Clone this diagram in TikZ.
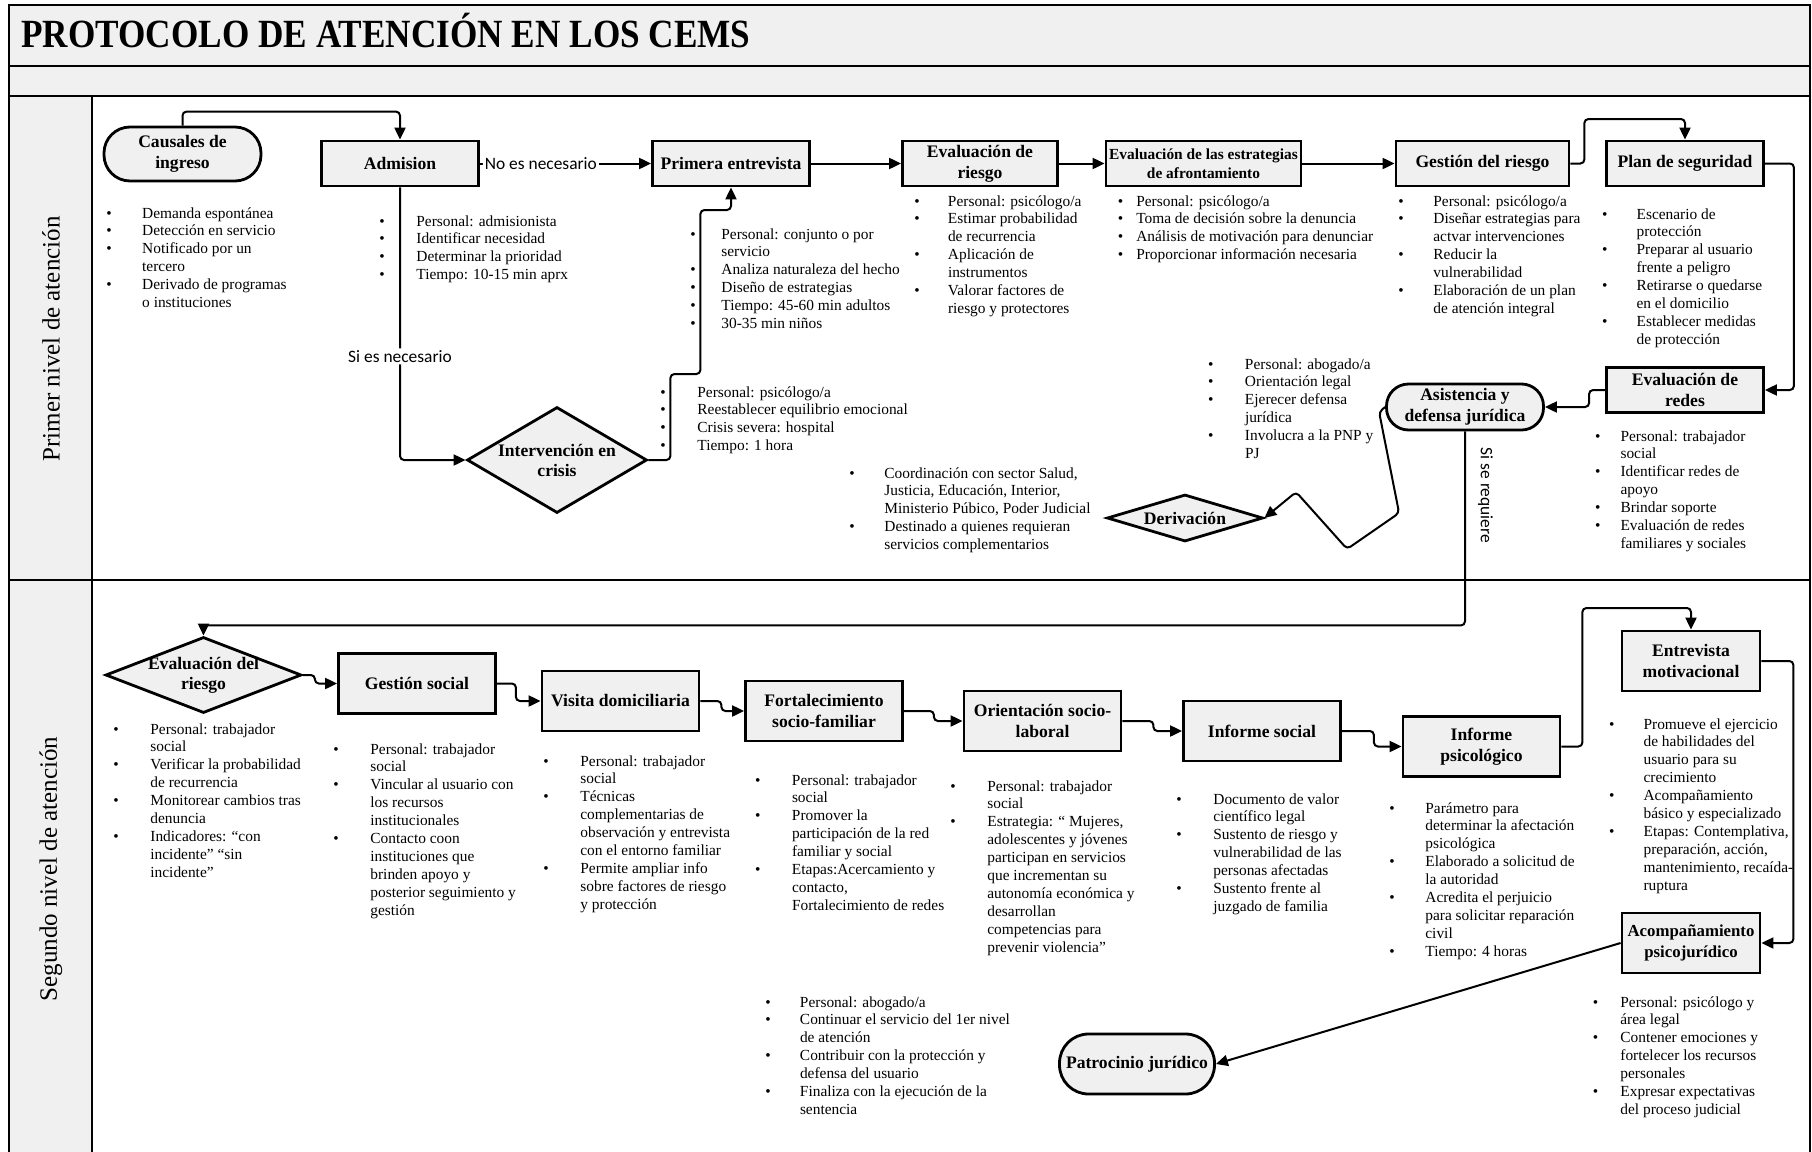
\documentclass[tikz,border=0pt]{standalone}
\usepackage{fontspec}
\setmainfont{Liberation Serif}
\newfontfamily\titulofont[FakeStretch=0.88]{Liberation Serif}
\newfontfamily\sansfont{Carlito}
\usepackage{tikz}
\usetikzlibrary{arrows,arrows.meta,shapes.geometric}
\usetikzlibrary{positioning,calc}
\definecolor{gris}{HTML}{F0F0F0}
\newcommand{\lista}[2]{\begin{tabular}[t]{@{}p{#1}@{}l@{}}#2\end{tabular}}
\newcommand{\bl}{\textbullet}

\begin{document}
\begin{tikzpicture}[x=0.5pt, y=-0.5pt,
        caja/.style={rectangle, draw, fill=gris, line width=1.4pt, align=center, inner sep=1pt, minimum width=78.5pt, minimum height=22.5pt, font=\fontsize{8.8}{10.4}\selectfont\bfseries},
        capsula/.style={caja, rounded corners=#1},
        rombo/.style={diamond, draw, fill=gris, line width=1.4pt, align=center, inner sep=0pt, font=\fontsize{8.8}{10}\selectfont\bfseries},
        lista/.style={anchor=base west, inner sep=0pt, font=\fontsize{7.7}{8.95}\selectfont},
        flecha/.style={-{Triangle[length=6pt,width=5.5pt]}, line width=1pt, rounded corners=2pt},
        marco/.style={line width=1.2pt},
        etiq/.style={font=\sansfont\fontsize{8.7}{10}\selectfont, inner sep=1pt},
        carril/.style={rotate=90, font=\fontsize{12.5}{14}\selectfont}]
        \useasboundingbox (0,0) rectangle (1812,1152);
        \draw[marco, fill=gris] (9,5) rectangle (1810,66);
        \draw[marco, fill=gris] (9,66) rectangle (1810,96);
        \draw[marco] (9,96) rectangle (1810,580);
        \draw[marco, fill=gris] (9,96) rectangle (92,580);
        \draw[marco] (9,580) rectangle (1810,1170);
        \draw[marco, fill=gris] (9,580) rectangle (92,1170);
        \node[anchor=base west, inner sep=0pt, font=\titulofont\fontsize{20}{24}\selectfont\bfseries] (titulo) at (21,47) {PROTOCOLO DE ATENCIÓN EN LOS CEMS};
        \node[carril] (nivel1) at (51,339) {Primer nivel de atención};
        \node[carril] (nivel2) at (51,869) {Segundo nivel de atención};

        \node[capsula=13pt, minimum height=27pt] (caus) at (182.5,154) {Causales de\\ingreso};
        \node[caja] (adm) at (400,163.5) {Admision};
        \node[caja] (pe) at (731,163.5) {Primera entrevista};
        \node[caja, minimum width=77.5pt] (er) at (980,163.5) {Evaluación de\\riesgo};
        \node[caja, minimum width=97.5pt, font=\fontsize{7.7}{9.6}\selectfont\bfseries] (ee) at (1203.5,163.5) {Evaluación de las estrategias\\de afrontamiento};
        \node[caja, minimum width=86.5pt] (gr) at (1482.5,163.5) {Gestión del riesgo};
        \node[caja] (plan) at (1685,163.5) {Plan de seguridad};
        \node[caja] (redes) at (1685,390) {Evaluación de\\redes};
        \node[capsula=11pt, minimum height=23pt] (asis) at (1465,407) {Asistencia y\\defensa jurídica};
        \node[rombo, aspect=3.3, minimum width=78pt, minimum height=23.5pt] (der) at (1185,518) {Derivación};
        \node[rombo, aspect=1.7, minimum width=90pt, minimum height=53pt] (int) at (557,460) {Intervención en\\crisis};

        \node[rombo, aspect=2.58, inner sep=-2pt, minimum width=98pt, minimum height=38pt] (evr) at (203.5,675) {Evaluación del\\riesgo};
        \node[caja, minimum height=30pt] (gs) at (417,683.5) {Gestión social};
        \node[caja, minimum height=30pt] (vd) at (620.5,701) {Visita domiciliaria};
        \node[caja, minimum height=30pt] (fs) at (824,711) {Fortalecimiento\\socio-familiar};
        \node[caja, minimum height=30pt] (ol) at (1042.5,721) {Orientación socio-\\laboral};
        \node[caja, minimum height=30pt] (is) at (1262,731) {Informe social};
        \node[caja, minimum height=30pt] (ip) at (1481.5,746.5) {Informe\\psicológico};
        \node[caja, minimum width=69pt, minimum height=30pt] (em) at (1691,661) {Entrevista\\motivacional};
        \node[caja, minimum width=69pt, minimum height=30pt, font=\fontsize{8.4}{10.4}\selectfont\bfseries] (ac) at (1691,943) {Acompañamiento\\psicojurídico};
        \node[capsula=14.5pt, minimum width=77.5pt, minimum height=30pt] (pat) at (1137,1064) {Patrocinio jurídico};

        \node[lista] (lcaus) at (106,218) {\lista{17.9pt}{\bl & Demanda espontánea\\ \bl & Detección en servicio\\ \bl & Notificado por un\\ & tercero\\ \bl & Derivado de programas\\ & o instituciones}};
        \node[lista] (ladm) at (379,226) {\lista{18.5pt}{\bl & Personal: admisionista\\ \bl & Identificar necesidad\\ \bl & Determinar la prioridad\\ \bl & Tiempo: 10-15 min aprx}};
        \node[lista] (lpe) at (690,239) {\lista{15.5pt}{\bl & Personal: conjunto o por\\ & servicio\\ \bl & Analiza naturaleza del hecho\\ \bl & Diseño de estrategias\\ \bl & Tiempo: 45-60 min adultos\\ \bl & 30-35 min niños}};
        \node[lista] (ler) at (914,206) {\lista{16.8pt}{\bl & Personal: psicólogo/a\\ \bl & Estimar probabilidad\\ & de recurrencia\\ \bl & Aplicación de\\ & instrumentos\\ \bl & Valorar factores de\\ & riesgo y protectores}};
        \node[lista] (lee) at (1117.5,206) {\lista{9.2pt}{\bl & Personal: psicólogo/a\\ \bl & Toma de decisión sobre la denuncia\\ \bl & Análisis de motivación para denunciar\\ \bl & Proporcionar información necesaria}};
        \node[lista] (lgr) at (1398,206) {\lista{17.5pt}{\bl & Personal: psicólogo/a\\ \bl & Diseñar estrategias para\\ & actvar intervenciones\\ \bl & Reducir la\\ & vulnerabilidad\\ \bl & Elaboración de un plan\\ & de atención integral}};
        \node[lista] (lplan) at (1601.6,219) {\lista{17.3pt}{\bl & Escenario de\\ & protección\\ \bl & Preparar al usuario\\ & frente a peligro\\ \bl & Retirarse o quedarse\\ & en el domicilio\\ \bl & Establecer medidas\\ & de protección}};
        \node[lista] (lint) at (660,397) {\lista{18.5pt}{\bl & Personal: psicólogo/a\\ \bl & Reestablecer equilibrio emocional\\ \bl & Crisis severa: hospital\\ \bl & Tiempo: 1 hora}};
        \node[lista] (lasis) at (1207.6,369) {\lista{18.5pt}{\bl & Personal: abogado/a\\ \bl & Orientación legal\\ \bl & Ejerecer defensa\\ & jurídica\\ \bl & Involucra a la PNP y\\ & PJ}};
        \node[lista] (lder) at (849,478) {\lista{17.5pt}{\bl & Coordinación con sector Salud,\\ & Justicia, Educación, Interior,\\ & Ministerio Púbico, Poder Judicial\\ \bl & Destinado a quienes requieran\\ & servicios complementarios}};
        \node[lista] (lredes) at (1594.7,441) {\lista{12.7pt}{\bl & Personal: trabajador\\ & social\\ \bl & Identificar redes de\\ & apoyo\\ \bl & Brindar soporte\\ \bl & Evaluación de redes\\ & familiares y sociales}};

        \node[lista] (levr) at (113,734) {\lista{18.5pt}{\bl & Personal: trabajador\\ & social\\ \bl & Verificar la probabilidad\\ & de recurrencia\\ \bl & Monitorear cambios tras\\ & denuncia\\ \bl & Indicadores: “con\\ & incidente” “sin\\ & incidente”}};
        \node[lista] (lgs) at (333,754) {\lista{18.5pt}{\bl & Personal: trabajador\\ & social\\ \bl & Vincular al usuario con\\ & los recursos\\ & institucionales\\ \bl & Contacto coon\\ & instituciones que\\ & brinden apoyo y\\ & posterior seguimiento y\\ & gestión}};
        \node[lista] (lvd) at (543,766) {\lista{18.5pt}{\bl & Personal: trabajador\\ & social\\ \bl & Técnicas\\ & complementarias de\\ & observación y entrevista\\ & con el entorno familiar\\ \bl & Permite ampliar info\\ & sobre factores de riesgo\\ & y protección}};
        \node[lista] (lfs) at (754.6,785) {\lista{18.5pt}{\bl & Personal: trabajador\\ & social\\ \bl & Promover la\\ & participación de la red\\ & familiar y social\\ \bl & Etapas:Acercamiento y\\ & contacto,\\ & Fortalecimiento de redes}};
        \node[lista] (lol) at (950,791) {\lista{18.5pt}{\bl & Personal: trabajador\\ & social\\ \bl & Estrategia: “ Mujeres,\\ & adolescentes y jóvenes\\ & participan en servicios\\ & que incrementan su\\ & autonomía económica y\\ & desarrollan\\ & competencias para\\ & prevenir violencia”}};
        \node[lista] (lis) at (1176,804) {\lista{18.5pt}{\bl & Documento de valor\\ & científico legal\\ \bl & Sustento de riesgo y\\ & vulnerabilidad de las\\ & personas afectadas\\ \bl & Sustento frente al\\ & juzgado de familia}};
        \node[lista] (lip) at (1389,813) {\lista{18pt}{\bl & Parámetro para\\ & determinar la afectación\\ & psicológica\\ \bl & Elaborado a solicitud de\\ & la autoridad\\ \bl & Acredita el perjuicio\\ & para solicitar reparación\\ & civil\\ \bl & Tiempo: 4 horas}};
        \node[lista] (lem) at (1608.6,729) {\lista{17.3pt}{\bl & Promueve el ejercicio\\ & de habilidades del\\ & usuario para su\\ & crecimiento\\ \bl & Acompañamiento\\ & básico y especializado\\ \bl & Etapas: Contemplativa,\\ & preparación, acción,\\ & mantenimiento, recaída-\\ & ruptura}};
        \node[lista] (lac) at (1592.4,1007) {\lista{13.8pt}{\bl & Personal: psicólogo y\\ & área legal\\ \bl & Contener emociones y\\ & fortelecer los recursos\\ & personales\\ \bl & Expresar expectativas\\ & del proceso judicial}};
        \node[lista] (lpat) at (765,1007) {\lista{17.3pt}{\bl & Personal: abogado/a\\ \bl & Continuar el servicio del 1er nivel\\ & de atención\\ \bl & Contribuir con la protección y\\ & defensa del usuario\\ \bl & Finaliza con la ejecución de la\\ & sentencia}};

        \draw[flecha] (caus.north) -- ++(0,-14) -| (adm.north);
        \draw[flecha] (adm.east) -- (pe.west) node[etiq, pos=0, anchor=west, fill=white, xshift=1pt] {No es necesario};
        \draw[flecha] (adm.south) |- (int.west) node[etiq, pos=0.31, fill=white] {Si es necesario};
        \draw[flecha] (int.east) -- ++(22,0) -- ++(0,-86) -- ++(30,0) -- ++(0,-164) -| (pe.south);
        \draw[flecha] (pe.east) -- (er.west);
        \draw[flecha] (er.east) -- (ee.west);
        \draw[flecha] (ee.east) -- (gr.west);
        \draw[flecha] (gr.east) -- ++(14,0) -- ++(0,-44.5) -| (plan.north);
        \draw[flecha] (plan.east) -- ++(29,0) |- (redes.east);
        \draw[flecha] (redes.west) -- ++(-16,0) |- (asis.east);
        \draw[flecha] (asis.west) -- ++(-6,5) -- ++(20,101) -- ++(-52,36) -- ++(-51,-57) -- (der.east);
        \draw[flecha] (asis.south) -- ++(0,194) node[etiq, pos=0.33, rotate=-90, anchor=south, inner ysep=6pt] {Si se requiere} -| (evr.north);

        \draw[flecha] (evr.east) -- ++(12,0) |- (gs.west);
        \draw[flecha] (gs.east) -- ++(19,0) |- (vd.west);
        \draw[flecha] (vd.east) -- ++(21,0) |- (fs.west);
        \draw[flecha] (fs.east) -- ++(30,0) |- (ol.west);
        \draw[flecha] (ol.east) -- ++(31,0) |- (is.west);
        \draw[flecha] (is.east) -- ++(32,0) |- (ip.west);
        \draw[flecha] (ip.east) -- ++(21,0) -- ++(0,-138.5) -| (em.north);
        \draw[flecha] (em.east) -- ++(32,0) |- (ac.east);
        \draw[flecha] (ac.west) -- (pat.east);
\end{tikzpicture}
\end{document}
